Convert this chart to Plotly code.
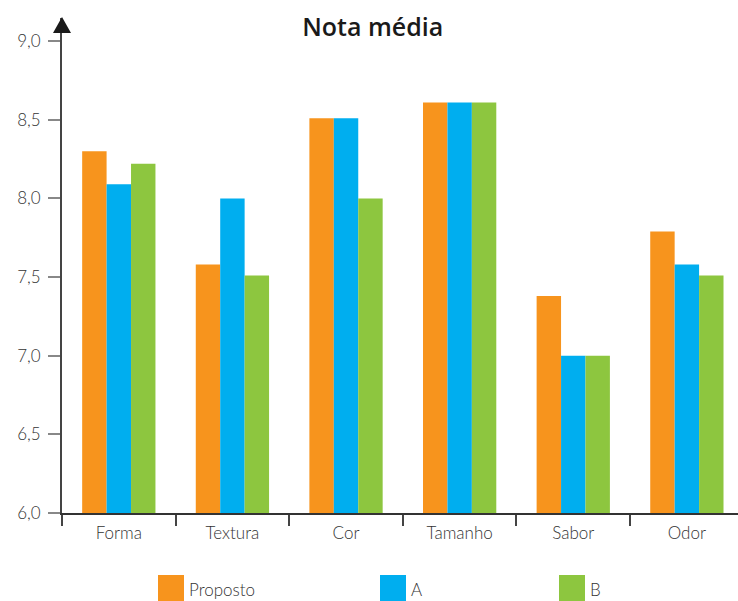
import plotly.graph_objects as go

categorias = ["Forma", "Textura", "Cor", "Tamanho", "Sabor", "Odor"]
proposto = [8.30, 7.58, 8.51, 8.61, 7.38, 7.79]
serie_a = [8.09, 8.00, 8.51, 8.61, 7.00, 7.58]
serie_b = [8.22, 7.51, 8.00, 8.61, 7.00, 7.51]

nomes = ["Proposto", "A", "B"]
cores = ["#F7941D", "#00AEEF", "#8DC63F"]
y_ticks = [6.0, 6.5, 7.0, 7.5, 8.0, 8.5, 9.0]

W, H = 738, 601
ML, MR, MT, MB = 62, 0, 18, 88
plot_w = W - ML - MR
plot_h = H - MT - MB

LABEL_FONT = dict(family="Lato, 'Open Sans', sans-serif", size=17, color="#333333", weight=300)

fig = go.Figure()
for nome, vals, cor in zip(nomes, [proposto, serie_a, serie_b], cores):
    fig.add_trace(go.Bar(
        x=categorias, y=vals, name=nome,
        marker=dict(color=cor, line=dict(width=0)),
        base=0, showlegend=False,
    ))

def px_x(p):
    return (p - ML) / plot_w

def px_y(p):
    return (H - MB - p) / plot_h

shapes = []
annotations = []

# arrow head on top of the y axis
shapes.append(dict(
    type="path", xref="paper", yref="paper",
    path=f"M {px_x(53)} {px_y(33)} L {px_x(62)} {px_y(17)} L {px_x(71)} {px_y(33)} Z",
    fillcolor="#1a1a1a", line=dict(width=0),
))

# legend drawn as boxes with labels
leg_boxes = [(158, 184, 187), (380, 406, 409), (559, 585, 588)]
for (x0, x1, tx), nome, cor in zip(leg_boxes, nomes, cores):
    shapes.append(dict(
        type="rect", xref="paper", yref="paper",
        x0=px_x(x0), x1=px_x(x1), y0=px_y(575), y1=px_y(603),
        fillcolor=cor, line=dict(width=0),
    ))
    annotations.append(dict(
        xref="paper", yref="paper", x=px_x(tx), y=px_y(589),
        text=nome, showarrow=False, xanchor="left", yanchor="middle",
        font=LABEL_FONT,
    ))

fig.update_layout(
    width=W, height=H,
    margin=dict(l=ML, r=MR, t=MT, b=MB, autoexpand=False),
    paper_bgcolor="white", plot_bgcolor="white",
    font=LABEL_FONT,
    separators=",.",
    title=dict(text="Nota média", x=0.505, xanchor="center",
               y=0.955, yanchor="middle", yref="container",
               font=dict(size=25, color="#1a1a1a", weight=600,
                         family="'Open Sans', Lato, sans-serif")),
    bargap=0.355, bargroupgap=0,
    barmode="group",
    shapes=shapes, annotations=annotations,
    xaxis=dict(
        range=[-0.5, 5.45], showgrid=False, zeroline=False,
        showline=True, linecolor="#333333", linewidth=2,
        ticks="outside", tickson="boundaries", ticklen=11, tickwidth=2,
        tickcolor="#444444", tickfont=LABEL_FONT, ticklabelstandoff=4,
    ),
    yaxis=dict(
        range=[6.0, 6.0 + plot_h / 157.3], showgrid=False, zeroline=False,
        showline=True, linecolor="#444444", linewidth=2,
        tickvals=y_ticks, tickformat=".1f",
        ticks="outside", ticklen=12, tickwidth=2, tickcolor="#888888",
        tickfont=LABEL_FONT, ticklabelstandoff=4,
    ),
)

fig.write_html("out.html")
